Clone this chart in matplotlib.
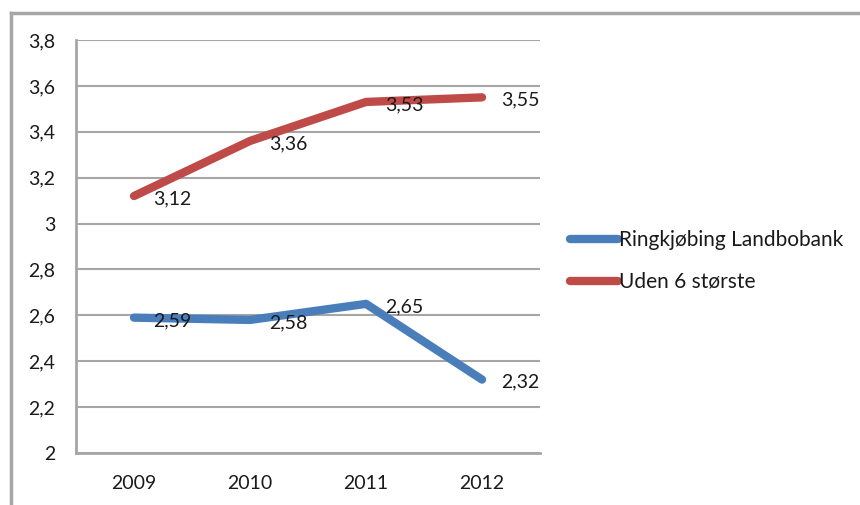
import numpy as np
import matplotlib.pyplot as plt
from matplotlib.lines import Line2D

# Data
years = ['2009', '2010', '2011', '2012']
ringkjobing = [2.59, 2.58, 2.65, 2.32]
uden6 = [3.12, 3.36, 3.53, 3.55]
y_ticks = [2, 2.2, 2.4, 2.6, 2.8, 3, 3.2, 3.4, 3.6, 3.8]
series_names = ['Ringkjøbing Landbobank', 'Uden 6 største']

plt.rcParams['font.family'] = ['Lato', 'DejaVu Sans']

blue = '#4a7ebb'
red = '#be4b48'
gray = '#a6a6a6'
txt = '#1a1a1a'

fig = plt.figure(figsize=(8.6, 5.05), dpi=100)
ax = fig.add_axes([76 / 860, 52 / 505, 464 / 860, 413 / 505])

x = np.arange(len(years))
ax.plot(x, ringkjobing, color=blue, lw=6, solid_capstyle='round', zorder=3)
ax.plot(x, uden6, color=red, lw=6, solid_capstyle='round', zorder=3)

def fmt(v):
    return f'{v:.2f}'.replace('.', ',')

for xi, v in zip(x, ringkjobing):
    ax.annotate(fmt(v), (xi, v), xytext=(14, -2), textcoords='offset points',
                ha='left', va='center', fontsize=14, color=txt, zorder=4)
for xi, v in zip(x, uden6):
    ax.annotate(fmt(v), (xi, v), xytext=(14, -2), textcoords='offset points',
                ha='left', va='center', fontsize=14, color=txt, zorder=4)

ax.set_xlim(-0.5, 3.5)
ax.set_ylim(2, 3.8)
ax.set_xticks(x)
ax.set_xticklabels(years)
ax.set_yticks(y_ticks)
ax.set_yticklabels([f'{t:g}'.replace('.', ',') for t in y_ticks])
ax.tick_params(length=0, labelsize=14, colors=txt)
ax.tick_params(axis='y', pad=15)
ax.tick_params(axis='x', pad=16)
ax.grid(axis='y', color=gray, lw=1.5)
ax.set_axisbelow(True)
for s in ['top', 'right']:
    ax.spines[s].set_visible(False)
for s in ['left', 'bottom']:
    ax.spines[s].set_color(gray)
    ax.spines[s].set_linewidth(2)

handles = [Line2D([0], [0], color=blue, lw=6, solid_capstyle='round'),
           Line2D([0], [0], color=red, lw=6, solid_capstyle='round')]
fig.legend(handles, series_names, loc='center left', bbox_to_anchor=(551 / 860, 1 - 261 / 505),
           frameon=False, fontsize=15, handlelength=2.3, handletextpad=0.05, labelspacing=1.05,
           labelcolor=txt)

# outer chart frame
fig.add_artist(Line2D([11 / 860, 1.0], [1 - 13 / 505, 1 - 13 / 505], transform=fig.transFigure,
                      color=gray, lw=2.5))
fig.add_artist(Line2D([11 / 860, 11 / 860], [0, 1 - 13 / 505], transform=fig.transFigure,
                      color=gray, lw=2.5))

fig.savefig('out.png', dpi=100)
